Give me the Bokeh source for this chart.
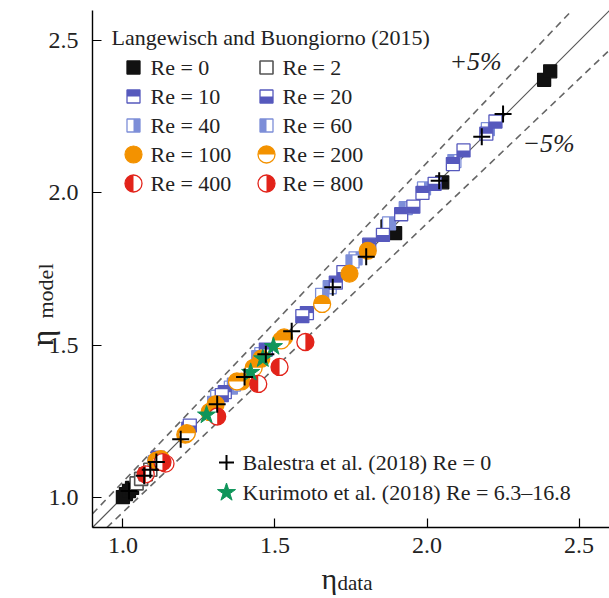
import numpy as np
from bokeh.plotting import figure
from bokeh.models import Range1d, FixedTicker, Label, PrintfTickFormatter
from bokeh.embed import file_html
from bokeh.resources import INLINE

# ---------------- data ----------------
re0_x = [1.00, 1.01, 1.02, 1.03, 1.87, 1.895, 2.05, 2.385, 2.405]
re0_y = [1.00, 1.01, 1.02, 1.03, 1.89, 1.868, 2.035, 2.372, 2.400]

re2_x = [1.045, 1.06, 1.075, 1.09, 1.105]
re2_y = [1.045, 1.06, 1.075, 1.09, 1.11]

re10_x = [1.115, 1.215, 1.335, 1.47, 1.605, 1.70, 1.81, 1.915, 1.985, 2.085, 2.195]
re10_y = [1.13, 1.225, 1.345, 1.485, 1.605, 1.705, 1.83, 1.93, 2.00, 2.095, 2.195]

re20_x = [1.22, 1.325, 1.59, 1.725, 1.855, 1.955, 2.025, 2.12, 2.225]
re20_y = [1.235, 1.335, 1.595, 1.74, 1.862, 1.955, 2.03, 2.14, 2.235]

re40_x = [1.105, 1.31, 1.355, 1.455, 1.655, 1.765, 1.875, 1.99, 2.20]
re40_y = [1.115, 1.33, 1.36, 1.47, 1.665, 1.785, 1.90, 2.015, 2.21]

re60_x = [1.30, 1.365, 1.445, 1.68, 1.755, 1.93, 2.09]
re60_y = [1.31, 1.37, 1.46, 1.69, 1.775, 1.95, 2.105]

re100_x = [1.11, 1.205, 1.305, 1.39, 1.455, 1.53, 1.745, 1.805]
re100_y = [1.12, 1.205, 1.305, 1.38, 1.455, 1.525, 1.735, 1.81]

re200_x = [1.125, 1.21, 1.285, 1.375, 1.43, 1.52, 1.655]
re200_y = [1.125, 1.21, 1.28, 1.38, 1.425, 1.515, 1.635]

re400_x = [1.075, 1.14, 1.445, 1.515]
re400_y = [1.075, 1.11, 1.372, 1.428]

re800_x = [1.13, 1.31, 1.60]
re800_y = [1.115, 1.265, 1.51]

bal_x = [1.02, 1.07, 1.09, 1.11, 1.19, 1.31, 1.40, 1.47, 1.555, 1.69, 1.80, 2.04, 2.18, 2.25]
bal_y = [1.02, 1.07, 1.09, 1.115, 1.19, 1.305, 1.395, 1.47, 1.545, 1.69, 1.79, 2.04, 2.185, 2.26]

kur_x = [1.275, 1.42, 1.46, 1.495]
kur_y = [1.27, 1.41, 1.455, 1.495]

box = [0.9, 2.6]              # axis extent (both axes)
band = [1.0, 1.05, 0.95]      # model/data ratios of the guide lines

tick_vals = [1.0, 1.5, 2.0, 2.5]

legend_labels = ["Re = 0", "Re = 2", "Re = 10", "Re = 20", "Re = 40",
                 "Re = 60", "Re = 100", "Re = 200", "Re = 400", "Re = 800"]

# ---------------- style / layout ----------------
FONT = "Liberation Serif, Times New Roman, serif"
TXT = "#222222"
BLUE = "#5659bd"
LBLUE = "#7d8ed8"
ORANGE = "#f39200"
RED = "#e2231a"
GREEN = "#0f955a"

W, H = 609, 598
AX_LEFT_PX, AX_BOTTOM_PX = 92, 527     # where the axes sit on the canvas
PPU = (W - AX_LEFT_PX) / (box[1] - box[0])
XR = (box[0] - AX_LEFT_PX / PPU, box[1])
YR = (box[0] - (H - AX_BOTTOM_PX) / PPU, box[0] + AX_BOTTOM_PX / PPU)
SQ = 13
CS = 17

p = figure(width=W, height=H, x_range=Range1d(*XR), y_range=Range1d(*YR),
           output_backend="svg", toolbar_location=None, min_border=0)
p.outline_line_color = None
p.xgrid.visible = False
p.ygrid.visible = False
for ax in (p.xaxis, p.yaxis):
    ax.fixed_location = box[0]
    ax.bounds = (box[0], box[1])
    ax.ticker = FixedTicker(ticks=tick_vals)
    ax.formatter = PrintfTickFormatter(format="%.1f")
    ax.major_tick_in = 9
    ax.major_tick_out = 0
    ax.minor_tick_line_color = None
    ax.axis_line_color = "black"
    ax.axis_line_width = 1.4
    ax.major_tick_line_color = "black"
    ax.major_tick_line_width = 1.2
    ax.major_label_text_font = FONT
    ax.major_label_text_font_size = "24px"
    ax.major_label_text_color = TXT
    ax.axis_label = None
p.xaxis.major_label_standoff = 10
p.yaxis.major_label_standoff = 14


def px2x(px):
    return XR[0] + px / PPU


def py2y(py):
    return YR[1] - py / PPU


# reference lines, clipped to the axis box
for f in band:
    x0 = max(box[0], box[0] / f)
    x1 = min(box[1], box[1] / f)
    lx = [x0, x1]
    ly = [x0 * f, x1 * f]
    if f == 1.0:
        p.line(lx, ly, line_color="#555555", line_width=1.2)
    else:
        p.line(lx, ly, line_color="#666666", line_width=1.6, line_dash="7 5")


def half_square(x, y, color, part, size=SQ):
    x = np.asarray(x, float)
    y = np.asarray(y, float)
    d = size / PPU
    p.scatter(x, y, marker="square", size=size, fill_color="white", line_color=color, line_width=1.3)
    lims = {"full": (-d / 2, d / 2, -d / 2, d / 2), "top": (-d / 2, d / 2, 0, d / 2),
            "bottom": (-d / 2, d / 2, -d / 2, 0), "left": (-d / 2, 0, -d / 2, d / 2),
            "right": (0, d / 2, -d / 2, d / 2)}[part]
    p.quad(left=x + lims[0], right=x + lims[1], bottom=y + lims[2], top=y + lims[3],
           fill_color=color, line_color=None)


def half_circle(x, y, color, part, size=CS):
    ang = {"top": (0, np.pi), "left": (np.pi / 2, 3 * np.pi / 2), "right": (-np.pi / 2, np.pi / 2)}
    if part == "full":
        p.scatter(x, y, marker="circle", size=size, fill_color=color, line_color=color, line_width=1.2)
        return
    p.scatter(x, y, marker="circle", size=size, fill_color="white", line_color=color, line_width=1.3)
    a0, a1 = ang[part]
    p.wedge(x=x, y=y, radius=size / 2, radius_units="screen", start_angle=a0, end_angle=a1,
            fill_color=color, line_color=None)


def draw_re(key, x, y):
    if key == 0:
        half_square(x, y, "#111111", "full")
    elif key == 2:
        p.scatter(x, y, marker="square", size=SQ, fill_color="white", line_color="#555555", line_width=1.6)
    elif key == 10:
        half_square(x, y, BLUE, "top")
    elif key == 20:
        half_square(x, y, BLUE, "bottom")
    elif key == 40:
        half_square(x, y, LBLUE, "right")
    elif key == 60:
        half_square(x, y, LBLUE, "left")
    elif key == 100:
        half_circle(x, y, ORANGE, "full")
    elif key == 200:
        half_circle(x, y, ORANGE, "top")
    elif key == 400:
        half_circle(x, y, RED, "left")
    elif key == 800:
        half_circle(x, y, RED, "right")


series = [(0, re0_x, re0_y), (2, re2_x, re2_y), (40, re40_x, re40_y), (60, re60_x, re60_y),
          (10, re10_x, re10_y), (20, re20_x, re20_y), (100, re100_x, re100_y),
          (200, re200_x, re200_y), (400, re400_x, re400_y), (800, re800_x, re800_y)]
for key, sx, sy in series:
    draw_re(key, sx, sy)

p.scatter(kur_x, kur_y, marker="star", size=19, fill_color=GREEN, line_color=GREEN)
p.scatter(bal_x, bal_y, marker="cross", size=17, line_color="black", line_width=2)

# ---------------- legend ----------------
def label(px, py, text, size, **kw):
    kw.setdefault("text_baseline", "middle")
    p.add_layout(Label(x=px2x(px), y=py2y(py), text=text, text_font=FONT,
                       text_font_size=size, text_color=TXT, **kw))


label(111, 37, "Langewisch and Buongiorno (2015)", "22px")
keys = [0, 2, 10, 20, 40, 60, 100, 200, 400, 800]
row_y = [67, 96, 125, 154, 183]
col_mx = [133, 266]
col_tx = [150, 282]
for i, (k, lab) in enumerate(zip(keys, legend_labels)):
    r, c = divmod(i, 2)
    draw_re(k, [px2x(col_mx[c])], [py2y(row_y[r])])
    label(col_tx[c], row_y[r], lab, "22px")

p.scatter([px2x(226)], [py2y(462)], marker="cross", size=15, line_color="black", line_width=2)
label(242, 462, "Balestra et al. (2018) Re = 0", "22px")
p.scatter([px2x(226)], [py2y(492)], marker="star", size=19, fill_color=GREEN, line_color=GREEN)
label(242, 492, "Kurimoto et al. (2018) Re = 6.3\u201316.8", "22px")

label(449, 61, "+5%", "26px", text_font_style="italic")
label(522, 143, "\u22125%", "26px", text_font_style="italic")

# axis titles (eta with subscript)
label(321, 578, "\u03b7", "30px", text_baseline="alphabetic")
label(337, 582, "data", "21px", text_baseline="alphabetic")
label(41, 346, "\u03b7", "32px", text_baseline="alphabetic", angle=np.pi / 2)
label(45, 318, "model", "22px", text_baseline="alphabetic", angle=np.pi / 2)

open("out.html", "w").write(file_html(p, INLINE))
